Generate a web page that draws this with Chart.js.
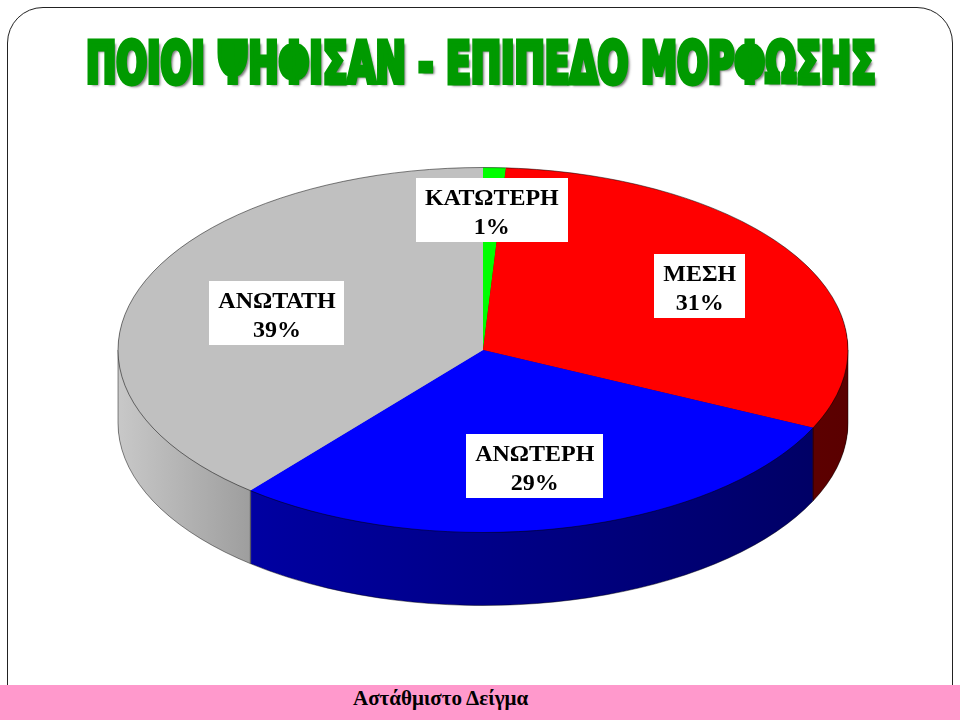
<!DOCTYPE html>
<html>
<head>
<meta charset="utf-8">
<script src="https://cdn.jsdelivr.net/npm/chart.js@4.4.1/dist/chart.umd.min.js"></script>
<style>
  html, body { margin: 0; padding: 0; background: #fff; }
  #page { position: relative; width: 960px; height: 720px; overflow: hidden; background: #fff; }
  #frame { position: absolute; left: 7px; top: 7px; width: 944px; height: 740px;
           border: 1.5px solid #222; border-radius: 36px; }
  #chart { position: absolute; left: 0; top: 0; }
  #title { position: absolute; left: 0; top: 36px; white-space: nowrap;
           font-family: "DejaVu Sans Condensed", "DejaVu Sans", sans-serif; font-weight: bold;
           font-size: 56px; line-height: 56px; color: #009a00;
           -webkit-text-stroke: 5px #009a00; transform-origin: center;
           text-shadow: 4px 3px 3px rgba(0,0,0,0.55); }
  #footer { position: absolute; left: 0; top: 685px; width: 960px; height: 35px; background: #ff99cc; }
  #footer span { position: absolute; left: 353px; top: 3px; font: bold 21px/21px "Liberation Serif", serif; color: #000; }
</style>
</head>
<body>
<div id="page">
  <div id="frame"></div>
  <canvas id="chart" width="960" height="720"></canvas>
  <div id="title">ΠΟΙΟΙ ΨΗΦΙΣΑΝ - ΕΠΙΠΕΔΟ ΜΟΡΦΩΣΗΣ</div>
  <div id="footer"><span>Αστάθμιστο Δείγμα</span></div>
</div>
<script>
// data
const categories = ['ΚΑΤΩΤΕΡΗ', 'ΜΕΣΗ', 'ΑΝΩΤΕΡΗ', 'ΑΝΩΤΑΤΗ'];
const shares = [1, 31, 29, 39];
const percentLabels = ['1%', '31%', '29%', '39%'];

// colours of the top face and the (gradient) side walls
const topColors = ['#00ff00', '#ff0000', '#0000ff', '#c0c0c0'];
const sideStops = [
  [[0, '#00a000'], [1, '#006000']],
  [[0, '#8a0000'], [1, '#5a0000']],
  [[0.15, '#0000a4'], [1, '#000062']],
  [[0, '#c8c8c8'], [0.19, '#9c9c9c']]
];
const labelRadius = [0.77, 0.69, 0.65, 0.6];

// squash the title so it fits like the condensed heading of the slide
const titleEl = document.getElementById('title');
const tw = titleEl.offsetWidth;
titleEl.style.transform = `translateX(${481 - tw / 2}px) scaleX(${790 / tw})`;

const pie3d = {
  id: 'pie3d',
  beforeDatasetsDraw(chart, args, opts) {
    const ctx = chart.ctx;
    const arcs = chart.getDatasetMeta(0).data;
    const cx = arcs[0].x, cy = arcs[0].y, r = arcs[0].outerRadius;
    const rx = r * opts.stretch, ry = r;

    const fills = sideStops.map(stops => {
      const g = ctx.createLinearGradient(cx - rx, 0, cx + rx, 0);
      stops.forEach(s => g.addColorStop(s[0], s[1]));
      return g;
    });

    // side walls: stack of shifted copies of every slice
    for (let d = opts.depth; d >= 1; d--) {
      arcs.forEach((arc, i) => {
        ctx.beginPath();
        ctx.moveTo(cx, cy + d);
        ctx.ellipse(cx, cy + d, rx, ry, 0, arc.startAngle, arc.endAngle);
        ctx.closePath();
        ctx.fillStyle = fills[i];
        ctx.fill();
      });
    }

    // edge lines of the walls
    ctx.save();
    ctx.strokeStyle = 'rgba(0,0,0,0.45)';
    ctx.lineWidth = 1;
    ctx.beginPath();
    ctx.ellipse(cx, cy + opts.depth, rx, ry, 0, 0, Math.PI);
    ctx.stroke();
    arcs.forEach(arc => {
      let a = arc.startAngle % (2 * Math.PI);
      if (a < 0) a += 2 * Math.PI;
      if (a > 0 && a < Math.PI) {
        const px = cx + rx * Math.cos(a), py = cy + ry * Math.sin(a);
        ctx.beginPath();
        ctx.moveTo(px, py);
        ctx.lineTo(px, py + opts.depth);
        ctx.stroke();
      }
    });
    [cx - rx, cx + rx].forEach(px => {
      ctx.beginPath();
      ctx.moveTo(px, cy);
      ctx.lineTo(px, cy + opts.depth);
      ctx.stroke();
    });
    ctx.restore();

    // stretch the round pie into the ellipse of the top face
    ctx.save();
    ctx.translate(cx, cy);
    ctx.scale(opts.stretch, 1);
    ctx.translate(-cx, -cy);
  },
  afterDatasetsDraw(chart, args, opts) {
    const ctx = chart.ctx;
    ctx.restore();
    const arcs = chart.getDatasetMeta(0).data;
    const cx = arcs[0].x, cy = arcs[0].y, r = arcs[0].outerRadius;
    const rx = r * opts.stretch, ry = r;

    ctx.save();
    ctx.strokeStyle = 'rgba(0,0,0,0.5)';
    ctx.lineWidth = 1;
    ctx.beginPath();
    ctx.ellipse(cx, cy, rx, ry, 0, 0, 2 * Math.PI);
    ctx.stroke();

    // label boxes
    ctx.font = 'bold 24px "Liberation Serif", serif';
    ctx.textAlign = 'center';
    ctx.textBaseline = 'alphabetic';
    arcs.forEach((arc, i) => {
      const mid = (arc.startAngle + arc.endAngle) / 2;
      const f = labelRadius[i];
      const lx = cx + rx * f * Math.cos(mid);
      const ly = cy + ry * f * Math.sin(mid);
      const lines = [categories[i], percentLabels[i]];
      const w = Math.max(...lines.map(t => ctx.measureText(t).width)) + 18;
      const h = 64;
      const top = ly - h / 2;
      ctx.fillStyle = '#fff';
      ctx.fillRect(Math.round(lx - w / 2), Math.round(top), Math.round(w), h);
      ctx.fillStyle = '#000';
      ctx.fillText(lines[0], lx, top + 27);
      ctx.fillText(lines[1], lx, top + 56);
    });
    ctx.restore();
  }
};

const ctx = document.getElementById('chart').getContext('2d');
const chart = new Chart(ctx, {
  type: 'pie',
  data: {
    labels: categories,
    datasets: [{
      data: shares,
      backgroundColor: topColors,
      borderWidth: 0,
      clip: false
    }]
  },
  options: {
    responsive: false,
    devicePixelRatio: 1,
    animation: false,
    events: [],
    layout: { padding: { top: 167.5, bottom: 187.5, left: 233, right: 227 } },
    plugins: {
      legend: { display: false },
      tooltip: { enabled: false },
      pie3d: { depth: 73, stretch: 2 }
    }
  },
  plugins: [pie3d]
});
</script>
</body>
</html>
